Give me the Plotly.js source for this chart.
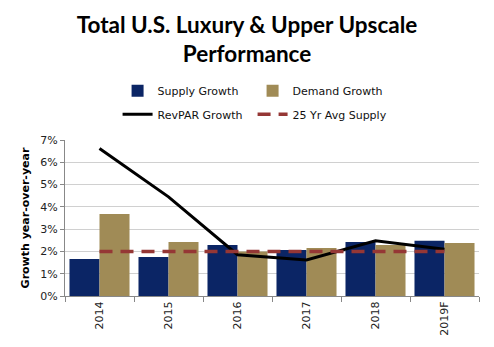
<!DOCTYPE html>
<html><head><meta charset="utf-8">
<script src="https://cdn.plot.ly/plotly-3.0.1.min.js"></script>
<style>html,body{margin:0;padding:0;background:#fff}#c{width:494px;height:347px}</style>
</head><body><div id="c"></div>
<script>
const years = ["2014","2015","2016","2017","2018","2019F"];
const supplyGrowth = [1.66, 1.75, 2.29, 2.06, 2.42, 2.48];
const demandGrowth = [3.68, 2.42, 2.0, 2.15, 2.29, 2.38];
const revparGrowth = [6.62, 4.45, 1.85, 1.62, 2.48, 2.1];
const avgSupply25 = [2.0, 2.0, 2.0, 2.0, 2.0, 2.0];
const yTicks = [0,1,2,3,4,5,6,7];
const yTickText = ["0%","1%","2%","3%","4%","5%","6%","7%"];

const font = {family: "DejaVu Sans, Verdana, sans-serif", size: 11, color: "#222"};
const traces = [
  {type:"bar", name:"Supply Growth", x:years, y:supplyGrowth, marker:{color:"#0b2565"}, legend:"legend"},
  {type:"bar", name:"Demand Growth", x:years, y:demandGrowth, marker:{color:"#a08b56"}, legend:"legend"},
  {type:"scatter", mode:"lines", name:"RevPAR Growth", x:years, y:revparGrowth, line:{color:"#000", width:3}, legend:"legend2"},
  {type:"scatter", mode:"lines", name:"25 Yr Avg Supply", x:years, y:avgSupply25, line:{color:"#953735", width:3.5, dash:"13px,8px"}, legend:"legend2"}
];
const legendBase = {orientation:"h", xanchor:"left", yanchor:"middle", entrywidth:90, font:{family:"DejaVu Sans, Verdana, sans-serif", size:11, color:"#111"}, bgcolor:"rgba(0,0,0,0)", itemwidth:30};
const layout = {
  width:494, height:347,
  margin:{l:65, r:15, t:140, b:51},
  paper_bgcolor:"#fff", plot_bgcolor:"#fff",
  font: font,
  title:{text:"<b>Total U.S. Luxury & Upper Upscale<br>Performance</b>", x:0.5, xanchor:"center", y:0.905, yanchor:"top",
    font:{family:"Lato, Open Sans, sans-serif", size:22.5, color:"#000"}},
  barmode:"group", bargap:0.13, bargroupgap:0,
  xaxis:{type:"category", tickangle:-90, tickson:"boundaries", ticks:"outside", ticklen:5, tickcolor:"#888",
    showline:true, linecolor:"#888", linewidth:1, showgrid:false, tickfont:font},
  yaxis:{range:[0,7], tickvals:yTicks, ticktext:yTickText, ticks:"outside", ticklen:4, tickcolor:"#888",
    showline:true, linecolor:"#888", gridcolor:"#d0d0d0", gridwidth:1, zeroline:false, tickfont:font,
    title:{text:"<b>Growth year-over-year</b>", standoff:8, font:{family:"DejaVu Sans, Verdana, sans-serif", size:11, color:"#000"}}},
  showlegend:true,
  legend: Object.assign({}, legendBase, {x:0.127, y:1.315}),
  legend2: Object.assign({}, legendBase, {x:0.127, y:1.165})
};
Plotly.newPlot("c", traces, layout, {displayModeBar:false, staticPlot:true});
</script></body></html>
